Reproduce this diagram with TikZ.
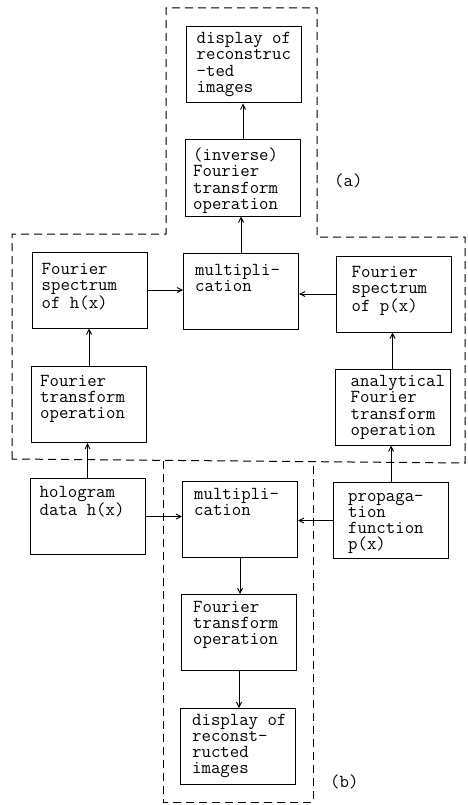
\documentclass[tikz,border=0pt]{standalone}
\usepackage{fontspec}
\usetikzlibrary{arrows.meta}
\newcommand{\firstln}{\rule{0pt}{14pt}}
\begin{document}
\begin{tikzpicture}[x=1pt,y=-1pt,
  blk/.style={draw, line width=1pt, minimum width=115pt, minimum height=76pt, inner sep=0pt},
  txt/.style={anchor=north west, align=left, inner sep=0pt,
              font=\ttfamily\fontsize{18.3}{16.2}\selectfont},
  tag/.style={anchor=base west, inner sep=0pt, font=\ttfamily\fontsize{18.3}{16.2}\selectfont},
  arr/.style={-{Straight Barb[length=5pt,width=5pt]}, line width=0.9pt},
  region/.style={draw=black, dash pattern=on 8pt off 5pt, line width=1pt}]
\useasboundingbox (0,0) rectangle (467,805);

% blocks
\node[blk] (dispA) at (243.5,65)   {};
\node[blk] (invFT) at (243,178)    {};
\node[blk] (specH) at (89.5,290)   {};
\node[blk] (multA) at (241,291.5)  {};
\node[blk] (specP) at (393.5,294)  {};
\node[blk] (ftL)   at (89,404.5)   {};
\node[blk] (anaFT) at (392.5,407)  {};
\node[blk] (holo)  at (87.5,516.5) {};
\node[blk] (multB) at (240,519)    {};
\node[blk] (prop)  at (391,520.5)  {};
\node[blk] (ftB)   at (239,632.5)  {};
\node[blk] (dispB) at (238,746.5)  {};

% block texts
\node[txt] (dispA-t) at ([shift={(11,3)}]dispA.north west) {\firstln display of\\reconstruc\\-ted\\images};
\node[txt] (invFT-t) at ([shift={(8,7)}]invFT.north west) {\firstln (inverse)\\Fourier\\transform\\operation};
\node[txt] (specH-t) at ([shift={(10,9)}]specH.north west) {\firstln Fourier\\spectrum\\of h(x)};
\node[txt] (multA-t) at ([shift={(12,8)}]multA.north west) {\firstln multipli-\\cation};
\node[txt] (specP-t) at ([shift={(16,8)}]specP.north west) {\firstln Fourier\\spectrum\\of p(x)};
\node[txt] (ftL-t)   at ([shift={(9,6)}]ftL.north west) {\firstln Fourier\\transform\\operation};
\node[txt] (anaFT-t) at ([shift={(16,4)}]anaFT.north west) {\firstln analytical\\Fourier\\transform\\operation};
\node[txt] (holo-t)  at ([shift={(10,5)}]holo.north west) {\firstln hologram\\data h(x)};
\node[txt] (multB-t) at ([shift={(12,5)}]multB.north west) {\firstln multipli-\\cation};
\node[txt] (prop-t)  at ([shift={(15,5)}]prop.north west) {\firstln propaga-\\tion\\function\\p(x)};
\node[txt] (ftB-t)   at ([shift={(12,4)}]ftB.north west) {\firstln Fourier\\transform\\operation};
\node[txt] (dispB-t) at ([shift={(12,3)}]dispB.north west) {\firstln display of\\reconst-\\ructed\\images};

% region labels
\node[tag] (labA) at (334,186) {(a)};
\node[tag] (labB) at (330,787) {(b)};

% dashed regions
\draw[region] (12,459) -- (12,234) -- (166,234) -- (166,8) -- (317,8)
              -- (317,237) -- (465,237) -- (465,463) -- cycle;
\draw[region] (163,461) -- (163,802) -- (313,802) -- (313,463);

% connectors
\draw[arr] (invFT.north) -- (invFT.north |- dispA.south);
\draw[arr] (multA.north) -- (multA.north |- invFT.south);
\draw[arr] (specH.east) -- (specH.east -| multA.west);
\draw[arr] (specP.west) -- (specP.west -| multA.east);
\draw[arr] (ftL.north) -- (ftL.north |- specH.south);
\draw[arr] (anaFT.north) -- (anaFT.north |- specP.south);
\draw[arr] (holo.north) -- (holo.north |- ftL.south);
\draw[arr] (prop.north) -- (prop.north |- anaFT.south);
\draw[arr] (holo.east) -- (holo.east -| multB.west);
\draw[arr] (prop.west) -- (prop.west -| multB.east);
\draw[arr] (multB.south) -- (multB.south |- ftB.north);
\draw[arr] (ftB.south) -- (ftB.south |- dispB.north);
\end{tikzpicture}
\end{document}
